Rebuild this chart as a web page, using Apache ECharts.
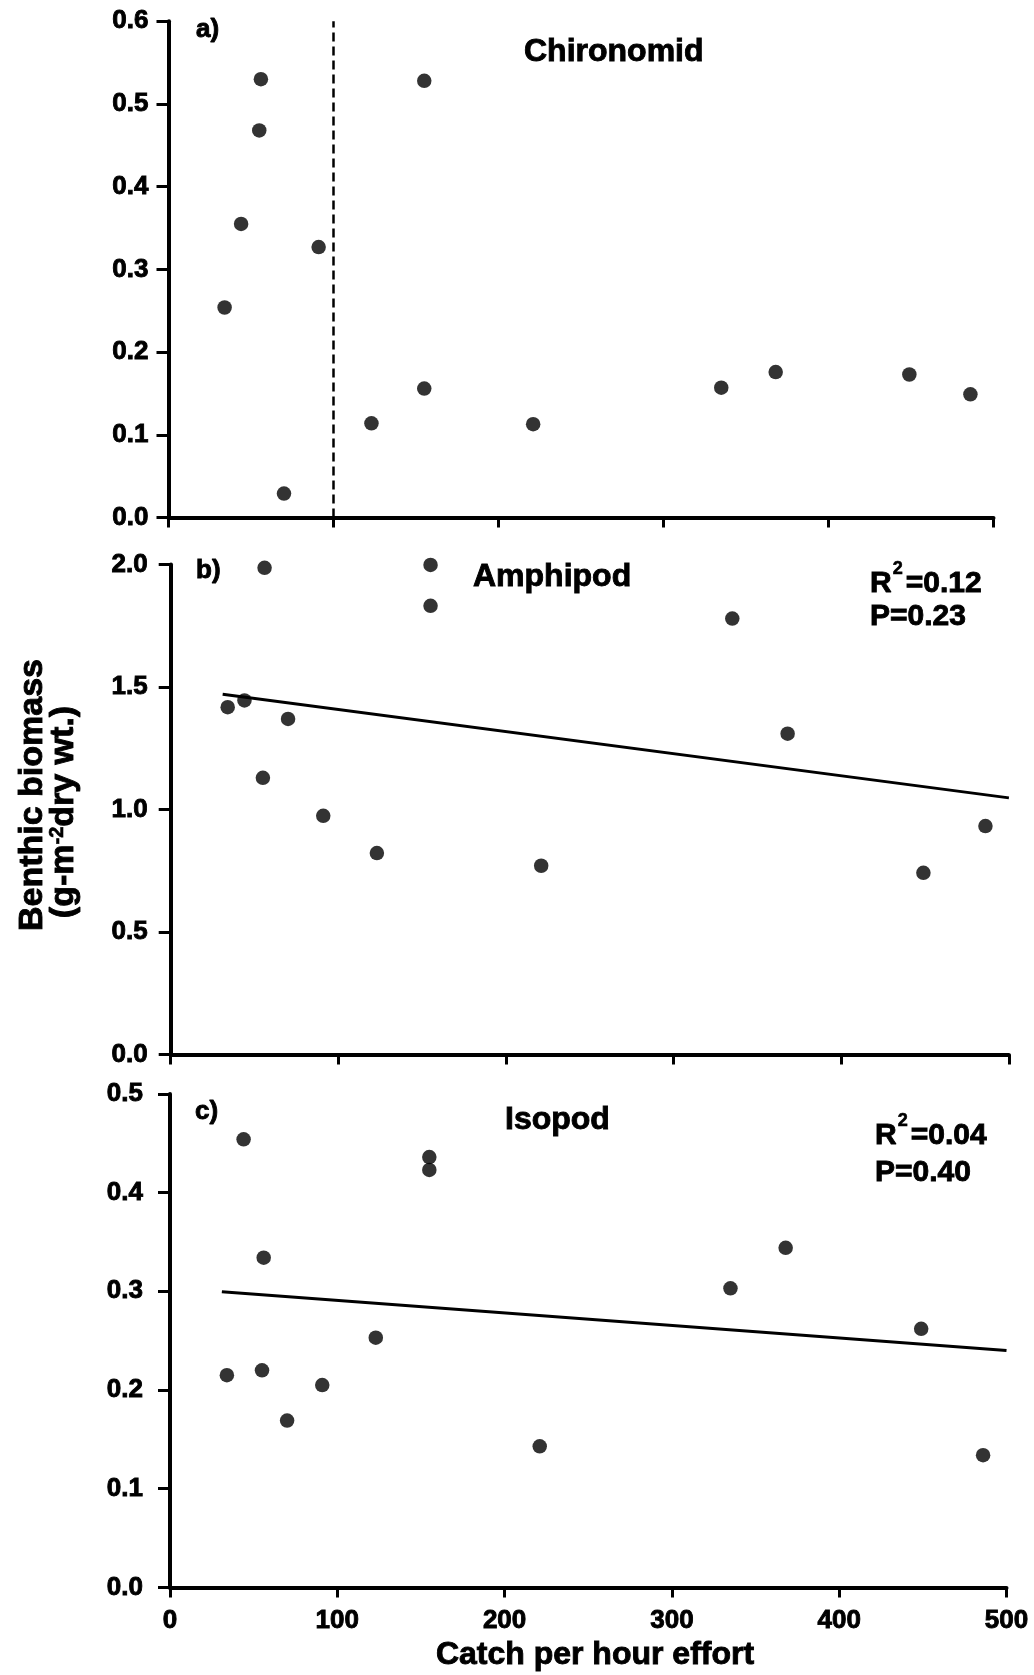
<!DOCTYPE html>
<html>
<head>
<meta charset="utf-8">
<title>Benthic biomass vs catch per hour effort</title>
<script src="https://cdn.jsdelivr.net/npm/echarts@6/dist/echarts.min.js"></script>
<style>
  html, body { margin: 0; padding: 0; background: #fff; }
  #chart { width: 1034px; height: 1675px; }
</style>
</head>
<body>
<div id="chart"></div>
<script>
// Catch per hour effort at each sampling site (shared by all three panels)
const catchPerHour = [34, 44, 55, 56, 70, 91, 123, 155, 155, 221, 335, 368, 449, 486];

// Benthic biomass (g-m-2 dry wt.) per site
const chironomid = [0.254, 0.355, 0.468, 0.530, 0.029, 0.327, 0.114, 0.156, 0.528, 0.113, 0.157, 0.176, 0.173, 0.149];
const amphipod   = [1.417, 1.445, 1.129, 1.986, 1.369, 0.974, 0.822, 1.998, 1.831, 0.770, 1.779, 1.309, 0.741, 0.932];
const isopod     = [0.215, 0.454, 0.220, 0.334, 0.169, 0.205, 0.253, 0.436, 0.423, 0.143, 0.303, 0.344, 0.262, 0.134];

// Chironomid threshold (dashed divider) and fitted regression lines
const chironomidThreshold = 100;
const amphipodFit = [[31, 1.470], [500, 1.047]];
const isopodFit   = [[31, 0.2995], [500, 0.240]];

// Axis ranges: [min, max, interval]
const xRange          = [0, 500, 100];
const chironomidRange = [0, 0.6, 0.1];
const amphipodRange   = [0, 2.0, 0.5];
const isopodRange     = [0, 0.5, 0.1];

// Panel texts
const panelTags   = ['a)', 'b)', 'c)'];
const panelTitles = ['Chironomid', 'Amphipod', 'Isopod'];
const amphipodStats = ['0.12', '0.23'];
const isopodStats   = ['0.04', '0.40'];

const FONT = '"Liberation Sans", Arial, Helvetica, sans-serif';
const INK = '#000';
const HEAVY = 0.9; // extra stroke that gives the lettering its heavy print weight

const chart = echarts.init(document.getElementById('chart'), null, { renderer: 'canvas' });

const grids = [
  { left: 168.5, top: 21.3,   width: 825,   height: 496.3 },
  { left: 170.7, top: 564.4,  width: 838.2, height: 490 },
  { left: 170,   top: 1093.9, width: 836.5, height: 493.5 }
];

const tickText = {
  color: INK, fontFamily: FONT, fontWeight: 'bold', fontSize: 26,
  textBorderColor: INK, textBorderWidth: HEAVY
};

function xAxisFor(i, showLabels) {
  return {
    type: 'value', gridIndex: i,
    min: xRange[0], max: xRange[1], interval: xRange[2],
    axisLine: { show: true, onZero: false, lineStyle: { color: INK, width: 4 } },
    axisTick: { show: true, length: 10, lineStyle: { color: INK, width: 3 } },
    axisLabel: Object.assign({
      show: showLabels, margin: 20,
      formatter: v => String(Math.round(v))
    }, tickText),
    splitLine: { show: false }
  };
}

function yAxisFor(i, range, margin) {
  return {
    type: 'value', gridIndex: i,
    min: range[0], max: range[1], interval: range[2],
    axisLine: { show: true, onZero: false, lineStyle: { color: INK, width: 4 } },
    axisTick: { show: true, length: 12, lineStyle: { color: INK, width: 3 } },
    axisLabel: Object.assign({
      margin: margin,
      formatter: v => v.toFixed(1)
    }, tickText),
    splitLine: { show: false }
  };
}

function points(values) {
  return catchPerHour.map((x, k) => [x, values[k]]);
}

function scatterFor(i, values) {
  return {
    type: 'scatter', xAxisIndex: i, yAxisIndex: i,
    data: points(values), symbol: 'circle', symbolSize: 14.5,
    itemStyle: { color: INK }, clip: false, z: 3
  };
}

function fitLine(i, pts, dashed) {
  return {
    type: 'line', xAxisIndex: i, yAxisIndex: i, data: pts,
    symbol: 'none', silent: true, z: 2,
    lineStyle: dashed
      ? { color: INK, width: 2.5, type: [9, 5] }
      : { color: INK, width: 3 }
  };
}

function label(text, x, y, size, align, rotation) {
  return {
    type: 'text', x: x, y: y, rotation: rotation || 0, silent: true,
    style: {
      text: text, fill: INK, stroke: INK, lineWidth: HEAVY,
      fontFamily: FONT, fontWeight: 'bold', fontSize: size,
      textAlign: align || 'left', textVerticalAlign: 'middle'
    }
  };
}

function statLine(main, sup, value, x, y) {
  // "R²=value" with a raised exponent
  return {
    type: 'text', x: x, y: y, silent: true,
    style: {
      text: '{m|' + main + '}{s|' + sup + '}{m|=' + value + '}',
      textAlign: 'left', textVerticalAlign: 'middle',
      rich: {
        m: { fontFamily: FONT, fontWeight: 'bold', fontSize: 30, lineHeight: 48,
             fill: INK, stroke: INK, lineWidth: HEAVY },
        s: { fontFamily: FONT, fontWeight: 'bold', fontSize: 18, lineHeight: 18,
             fill: INK, stroke: INK, lineWidth: HEAVY * 0.7,
             verticalAlign: 'top', padding: [0, 3, 0, 1] }
      }
    }
  };
}

const option = {
  animation: false,
  backgroundColor: '#fff',
  grid: grids,
  xAxis: [xAxisFor(0, false), xAxisFor(1, false), xAxisFor(2, true)],
  yAxis: [yAxisFor(0, chironomidRange, 20), yAxisFor(1, amphipodRange, 23), yAxisFor(2, isopodRange, 27)],
  series: [
    fitLine(0, [[chironomidThreshold, chironomidRange[0]], [chironomidThreshold, chironomidRange[1]]], true),
    scatterFor(0, chironomid),
    fitLine(1, amphipodFit, false),
    scatterFor(1, amphipod),
    fitLine(2, isopodFit, false),
    scatterFor(2, isopod)
  ],
  graphic: [
    label(panelTags[0], 196, 30, 26),
    label(panelTags[1], 196, 571, 26),
    label(panelTags[2], 195, 1112, 26),
    label(panelTitles[0], 524, 52, 32),
    label(panelTitles[1], 473, 577, 32),
    label(panelTitles[2], 505, 1120, 32),
    statLine('R', '2', amphipodStats[0], 870, 584),
    label('P=' + amphipodStats[1], 870, 617, 30),
    statLine('R', '2', isopodStats[0], 875, 1136),
    label('P=' + isopodStats[1], 875, 1173, 30),
    label('Catch per hour effort', 595, 1655, 32, 'center'),
    label('Benthic biomass', 32.5, 795, 34, 'center', Math.PI / 2),
    {
      type: 'text', x: 64, y: 812, rotation: Math.PI / 2, silent: true,
      style: {
        text: '{m|(g-m}{s|-2}{m|dry wt.)}',
        textAlign: 'center', textVerticalAlign: 'middle',
        rich: {
          m: { fontFamily: FONT, fontWeight: 'bold', fontSize: 34, lineHeight: 34,
               fill: INK, stroke: INK, lineWidth: HEAVY },
          s: { fontFamily: FONT, fontWeight: 'bold', fontSize: 20, lineHeight: 20,
               fill: INK, stroke: INK, lineWidth: HEAVY * 0.7, verticalAlign: 'top' }
        }
      }
    }
  ]
};

chart.setOption(option);
</script>
</body>
</html>
